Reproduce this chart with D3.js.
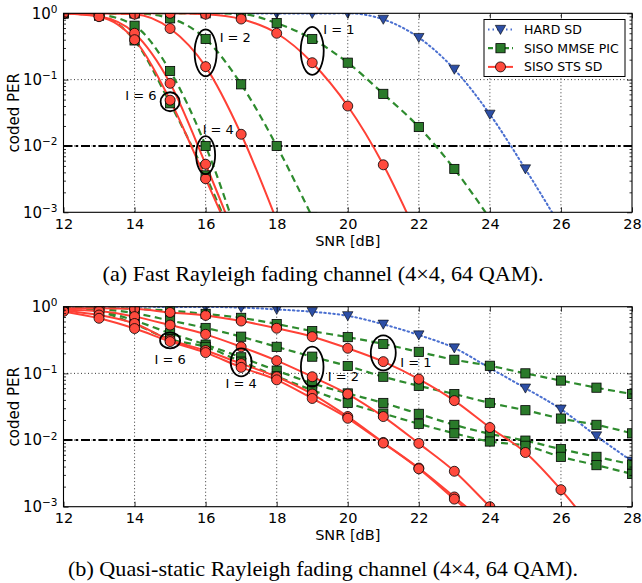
<!DOCTYPE html>
<html><head><meta charset="utf-8">
<script src="https://cdn.jsdelivr.net/npm/d3@7"></script>
<style>body{margin:0;background:#fff}svg{display:block}</style>
</head><body>
<svg id="c" width="642" height="583"></svg>
<script>
// ---------- data ----------
const snr = [12,13,14,15,16,17,18,19,20,21,22,23,24,25,26,27,28];
const xTicks = [12,14,16,18,20,22,24,26,28];
const yTicks = [1e-3,1e-2,1e-1,1];
const seriesNames = ["HARD SD","SISO MMSE PIC","SISO STS SD"];
const iterLabels = ["I = 1","I = 2","I = 4","I = 6"];
const targetPER = 0.01;
const captions = ["(a) Fast Rayleigh fading channel (4\u00d74, 64 QAM).",
                  "(b) Quasi-static Rayleigh fading channel (4\u00d74, 64 QAM)."];

// (a) fast Rayleigh fading
const hardA   = [1,1,1,1,1,1,0.99,0.99,1,0.81,0.43,0.143,0.030,0.0045,0.0006,null,null];
const mmseA1  = [1,1,1,1,1,0.975,0.71,0.41,0.18,0.061,0.0193,0.0045,0.0008,null,null,null,null];
const stsA1   = [1,1,1,1,0.97,0.82,0.50,0.18,0.040,0.0052,0.0004,null,null,null,null,null,null];
const mmseA2  = [1,1,1,0.84,0.41,0.085,0.010,0.00085,null,null,null,null,null,null,null,null,null];
const stsA2   = [1,1,0.97,0.59,0.157,0.015,0.00075,null,null,null,null,null,null,null,null,null,null];
const mmseA4  = [1,0.95,0.65,0.135,0.010,0.0003,null,null,null,null,null,null,null,null,null,null,null];
const stsA4   = [1,0.90,0.50,0.088,0.0053,0.00025,null,null,null,null,null,null,null,null,null,null,null];
const mmseA6  = [1,0.92,0.39,0.044,0.0036,0.0002,null,null,null,null,null,null,null,null,null,null,null];
const stsA6   = [1,0.89,0.40,0.049,0.0032,0.0002,null,null,null,null,null,null,null,null,null,null,null];

// (b) quasi-static Rayleigh fading
const hardB   = [1,1,1,0.99,0.99,0.97,0.91,0.84,0.73,0.545,0.376,0.24,0.12,0.060,0.029,0.0115,0.0048];
const mmseB1  = [1,0.97,0.93,0.87,0.78,0.68,0.55,0.43,0.35,0.276,0.21,0.16,0.13,0.10,0.078,0.061,0.049];
const stsB1   = [0.95,0.95,0.93,0.82,0.74,0.61,0.475,0.355,0.238,0.15,0.082,0.039,0.0154,0.0065,0.0018,0.0004,null];
const mmseB2  = [1,0.93,0.80,0.62,0.48,0.355,0.25,0.178,0.129,0.089,0.065,0.049,0.036,0.028,0.021,0.0169,0.0126];
const stsB2   = [0.90,0.86,0.71,0.53,0.385,0.25,0.155,0.089,0.049,0.0225,0.0089,0.0034,0.0010,0.0003,null,null,null];
const mmseB4  = [1,0.88,0.62,0.40,0.27,0.174,0.11,0.071,0.050,0.036,0.0247,0.0169,0.0124,0.0098,0.0073,0.0056,0.0043];
const stsB4   = [0.87,0.75,0.56,0.316,0.22,0.14,0.089,0.049,0.0225,0.0092,0.0038,0.0014,0.0005,null,null,null,null];
const mmseB6  = [1,0.85,0.55,0.325,0.25,0.15,0.090,0.056,0.036,0.025,0.0175,0.0126,0.0095,0.0082,0.0056,0.0042,0.0031];
const stsB6   = [0.85,0.67,0.47,0.30,0.205,0.123,0.080,0.042,0.0212,0.0090,0.0037,0.0013,0.00045,null,null,null,null];

// ---------- styles / layout ----------
const C = {
  red:"#ff4136", redFill:"#ff4a3d",
  green:"#2e8b2e", greenFill:"#2a7a2a",
  blue:"#4a6fd0", blueFill:"#2d4fa6"
};
const SANS = "'DejaVu Sans', sans-serif";
const SERIF = "'Liberation Serif','Times New Roman',serif";
const svg = d3.select("#c");
const x = d3.scaleLinear().domain([12,28]).range([63.5,632]);

function marker(g, type, cx, cy) {
  if (type === "circle") {
    g.append("circle").attr("cx",cx).attr("cy",cy).attr("r",5)
      .attr("fill",C.redFill).attr("stroke","#000").attr("stroke-width",0.8);
  } else if (type === "square") {
    g.append("rect").attr("x",cx-4.6).attr("y",cy-4.6).attr("width",9.2).attr("height",9.2)
      .attr("fill",C.greenFill).attr("stroke","#000").attr("stroke-width",0.8);
  } else {
    const s = 5.2;
    g.append("path").attr("d",`M${cx-s},${cy-s*0.8}L${cx+s},${cy-s*0.8}L${cx},${cy+s*0.95}Z`)
      .attr("fill",C.blueFill).attr("stroke","#000").attr("stroke-width",0.6);
  }
}
const styles = {
  hard:{stroke:C.blue, width:2, dash:"1.5,3", marker:"tri"},
  mmse:{stroke:C.green, width:2.2, dash:"7,4.5", marker:"square"},
  sts:{stroke:C.red, width:2, dash:null, marker:"circle"}
};

function panel(id, top, H, data, annots, showLegend, caption, capY, capLen) {
  const y = d3.scaleLog().domain([1e-3,1]).range([top+H, top]);
  const x0 = x.range()[0], x1 = x.range()[1], y0 = top+H, y1 = top;
  const g = svg.append("g");
  const clipId = "clip"+id;
  svg.append("clipPath").attr("id",clipId).append("rect")
    .attr("x",x0).attr("y",y1).attr("width",x1-x0).attr("height",y0-y1);

  // grid
  const grid = g.append("g").attr("stroke","#000").attr("stroke-width",0.8).attr("stroke-dasharray","1,2.5");
  grid.selectAll(".gv").data(xTicks.slice(1,-1)).join("line")
    .attr("x1",d=>x(d)).attr("x2",d=>x(d)).attr("y1",y0).attr("y2",y1);
  grid.selectAll(".gh").data(yTicks.slice(1,-1)).join("line")
    .attr("x1",x0).attr("x2",x1).attr("y1",d=>y(d)).attr("y2",d=>y(d));

  // target line
  g.append("line").attr("x1",x0).attr("x2",x1).attr("y1",y(targetPER)).attr("y2",y(targetPER))
    .attr("stroke","#000").attr("stroke-width",2).attr("stroke-dasharray","9,3,2.5,3");

  const plot = g.append("g").attr("clip-path",`url(#${clipId})`);
  const line = d3.line().defined(d=>d.v!=null).x(d=>x(d.s)).y(d=>y(d.v)).curve(d3.curveMonotoneX);
  data.forEach(sr => {
    const st = styles[sr.kind];
    const pts = snr.map((s,i)=>({s, v:sr.values[i]}));
    const p = plot.append("path").attr("d",line(pts)).attr("fill","none")
      .attr("stroke",st.stroke).attr("stroke-width",st.width);
    if (st.dash) p.attr("stroke-dasharray",st.dash);
    if (sr.kind==="hard") p.attr("stroke-linecap","round");
    sr._pts = pts;
  });
  data.forEach(sr => {
    const st = styles[sr.kind];
    const mg = plot.append("g");
    sr._pts.filter(d=>d.v!=null).forEach(d=>marker(mg, st.marker, x(d.s), y(d.v)));
  });

  // axes
  const ax = g.append("g").attr("font-family",SANS);
  const bottom = ax.append("g").attr("transform",`translate(0,${y0})`)
    .call(d3.axisBottom(x).tickValues(xTicks).tickSize(-5).tickPadding(6).tickFormat(d3.format("d")));
  bottom.selectAll("text").attr("font-size",14.5).attr("fill","#000").attr("font-family",SANS);
  ax.append("g").attr("transform",`translate(0,${y1})`)
    .call(d3.axisTop(x).tickValues(xTicks).tickSize(-5).tickFormat(""));
  const minor = y.ticks().filter(v=>!yTicks.some(t=>Math.abs(t-v)/v<1e-6));
  const left = ax.append("g").attr("transform",`translate(${x0},0)`)
    .call(d3.axisLeft(y).tickValues(yTicks).tickSize(-5).tickPadding(6));
  left.selectAll("text").each(function(d){
    const e = Math.round(Math.log10(d));
    const t = d3.select(this).text(null).attr("font-size",15).attr("fill","#000").attr("font-family",SANS);
    t.append("tspan").text("10");
    t.append("tspan").attr("dy","-0.55em").attr("font-size",10.5).text(e===0?"0":"\u2212"+Math.abs(e));
  });
  ax.append("g").attr("transform",`translate(${x0},0)`)
    .call(d3.axisLeft(y).tickValues(minor).tickSize(-2.5).tickFormat(""));
  ax.append("g").attr("transform",`translate(${x1},0)`)
    .call(d3.axisRight(y).tickValues(yTicks).tickSize(-5).tickFormat(""));
  ax.append("g").attr("transform",`translate(${x1},0)`)
    .call(d3.axisRight(y).tickValues(minor).tickSize(-2.5).tickFormat(""));
  ax.selectAll(".domain").remove();
  ax.selectAll(".tick line").attr("stroke","#000").attr("stroke-width",0.8);
  g.append("rect").attr("x",x0).attr("y",y1).attr("width",x1-x0).attr("height",y0-y1)
    .attr("fill","none").attr("stroke","#000").attr("stroke-width",1.1);

  // axis titles
  g.append("text").attr("x",(x0+x1)/2).attr("y",y0+33.5).attr("text-anchor","middle")
    .attr("font-family",SANS).attr("font-size",14.5).text("SNR [dB]");
  g.append("text").attr("transform",`translate(18.5,${(y0+y1)/2}) rotate(-90)`).attr("text-anchor","middle")
    .attr("font-family",SANS).attr("font-size",15).text("coded PER");

  // annotations
  annots.forEach(a => {
    const i = snr.indexOf(a.s);
    const vals = a.series.map(sr=>sr[i]);
    const cy = y(Math.sqrt(d3.max(vals)*d3.min(vals)));
    const cx = x(a.s);
    g.append("ellipse").attr("cx",cx).attr("cy",cy).attr("rx",a.rx).attr("ry",a.ry)
      .attr("fill","none").attr("stroke","#000").attr("stroke-width",1.8);
    g.append("text").attr("x",cx+a.dx).attr("y",cy+a.dy).attr("text-anchor",a.anchor)
      .attr("dominant-baseline","central").attr("font-family",SANS).attr("font-size",13)
      .text(a.label);
  });

  if (showLegend) {
    const lg = g.append("g");
    const lx = 484, ly = 19.5, lw = 141, lh = 57;
    lg.append("rect").attr("x",lx).attr("y",ly).attr("width",lw).attr("height",lh)
      .attr("fill","#fff").attr("stroke","#000").attr("stroke-width",1);
    ["hard","mmse","sts"].forEach((k,i)=>{
      const st = styles[k], yy = ly+10+i*18.7;
      const l = lg.append("line").attr("x1",lx+4).attr("x2",lx+29).attr("y1",yy).attr("y2",yy)
        .attr("stroke",st.stroke).attr("stroke-width",st.width);
      if (st.dash) l.attr("stroke-dasharray", k==="mmse" ? "5,3" : st.dash);
      marker(lg, st.marker, lx+16.5, yy);
      lg.append("text").attr("x",lx+40).attr("y",yy).attr("dominant-baseline","central")
        .attr("font-family",SANS).attr("font-size",12.5).text(seriesNames[i]);
    });
  }

  svg.append("text").attr("x",323).attr("y",capY).attr("text-anchor","middle")
    .attr("font-family",SERIF).attr("font-size",21)
    .attr("textLength",capLen).attr("lengthAdjust","spacingAndGlyphs").text(caption);
}

panel("a", 13.3, 199, [
  {kind:"hard", values:hardA},
  {kind:"mmse", values:mmseA1},{kind:"mmse", values:mmseA2},{kind:"mmse", values:mmseA4},{kind:"mmse", values:mmseA6},
  {kind:"sts", values:stsA1},{kind:"sts", values:stsA2},{kind:"sts", values:stsA4},{kind:"sts", values:stsA6}
], [
  {label:iterLabels[1], s:16, series:[mmseA2,stsA2], rx:11, ry:23.5, dx:14, dy:-15, anchor:"start"},
  {label:iterLabels[0], s:19, series:[mmseA1,stsA1], rx:11.5, ry:24, dx:11, dy:-21.5, anchor:"start"},
  {label:iterLabels[3], s:15, series:[mmseA6,stsA6], rx:9.5, ry:9.5, dx:-13.5, dy:-6, anchor:"end"},
  {label:iterLabels[2], s:16, series:[mmseA4,stsA4], rx:9.5, ry:19, dx:-3, dy:-26, anchor:"start"}
], true, captions[0], 281, 441);

panel("b", 306.7, 200, [
  {kind:"hard", values:hardB},
  {kind:"mmse", values:mmseB1},{kind:"mmse", values:mmseB2},{kind:"mmse", values:mmseB4},{kind:"mmse", values:mmseB6},
  {kind:"sts", values:stsB1},{kind:"sts", values:stsB2},{kind:"sts", values:stsB4},{kind:"sts", values:stsB6}
], [
  {label:iterLabels[3], s:15, series:[mmseB6,stsB6], rx:10, ry:8, dx:0, dy:19, anchor:"middle"},
  {label:iterLabels[2], s:17, series:[mmseB4,stsB4,stsB6], rx:10.5, ry:14, dx:0, dy:21, anchor:"middle"},
  {label:iterLabels[1], s:19, series:[mmseB2,stsB2], rx:11.3, ry:20, dx:15.5, dy:10, anchor:"start"},
  {label:iterLabels[0], s:21, series:[mmseB1,stsB1], rx:12.5, ry:17.5, dx:17, dy:10, anchor:"start"}
], false, captions[1], 576, 510);
</script>
</body></html>
